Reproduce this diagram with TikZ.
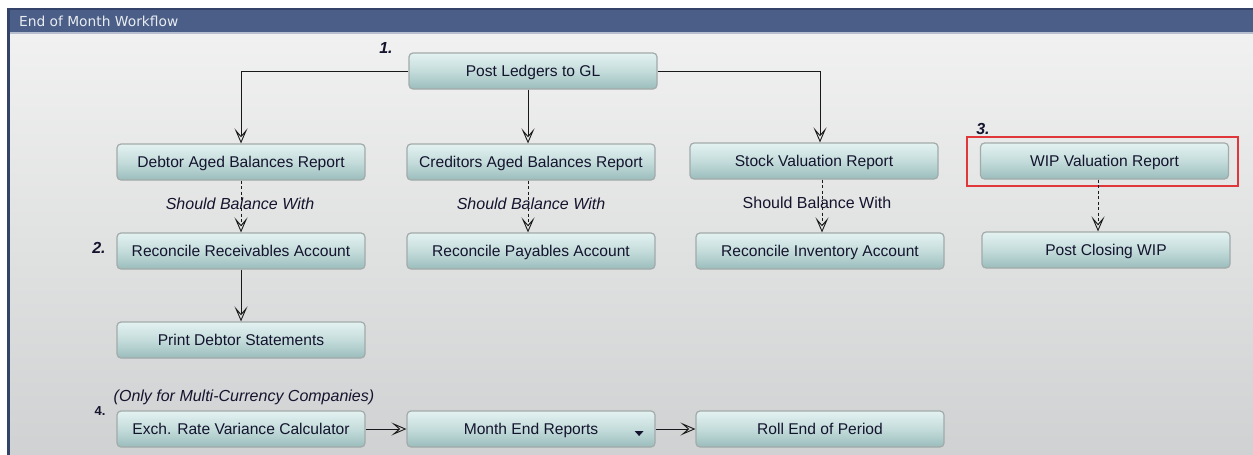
\documentclass[tikz,border=0pt]{standalone}
\usepackage{fontspec}
\setmainfont{Liberation Sans}
\newfontfamily\titlefont{DejaVu Sans}
\usetikzlibrary{arrows.meta}
\definecolor{panelblue}{HTML}{4A5E87}
\definecolor{paneledge}{HTML}{33436A}
\definecolor{boxedge}{HTML}{A2AAAA}
\definecolor{boxtop}{HTML}{E3F2F1}
\definecolor{boxmid}{HTML}{C4DCDB}
\definecolor{boxbot}{HTML}{9BBDBC}
\definecolor{ink}{HTML}{14142E}
\definecolor{bgtop}{HTML}{F0F1F0}
\definecolor{bgbot}{HTML}{D0D1D2}
\definecolor{selred}{HTML}{E0383A}
\tikzset{
  wbox/.style={draw=boxedge, line width=1.2pt, rounded corners=4pt,
    top color=boxtop, bottom color=boxbot, middle color=boxmid,
    minimum width=248pt, minimum height=36pt, inner sep=0pt,
    text height=11.2pt, text depth=0pt,
    text=ink, font=\fontsize{15.6}{18}\selectfont},
  flow/.style={draw=black!90, line width=0.85pt,
    -{Stealth[open, length=15pt, width=13pt, inset=7.5pt, line width=0.9pt]}},
  balance/.style={flow, dashed, dash pattern=on 3pt off 2.5pt},
  note/.style={text=ink, font=\fontsize{16}{19}\selectfont},
  stepnum/.style={text=ink, font=\fontsize{16}{19}\selectfont\bfseries\itshape}
}
\begin{document}
\begin{tikzpicture}[x=1pt, y=-1pt]
  \useasboundingbox (0,0) rectangle (1253,455);
  % window frame
  \fill[white] (0,0) rectangle (1253,455);
  \shade[top color=bgtop, bottom color=bgbot] (9,34) rectangle (1253,455);
  \fill[panelblue] (8,8) rectangle (1253,33);
  \fill[paneledge] (8,8) rectangle (1253,10);
  \fill[white!60!panelblue] (8,32) rectangle (1253,34);
  \fill[paneledge] (7,8) rectangle (9.5,455);
  \node[anchor=west, text=white!88!panelblue, font=\titlefont\fontsize{13.8}{16}\selectfont]
    (title) at (15.5,21) {End of Month Workflow};

  % workflow steps
  \node[wbox] (pl)  at (533,71)    {Post Ledgers to GL};
  \node[wbox] (db)  at (241,162)   {Debtor Aged Balances Report};
  \node[wbox] (cr)  at (531,162)   {Creditors Aged Balances Report};
  \node[wbox] (sv)  at (814,161)   {Stock Valuation Report};
  \node[wbox] (wip) at (1104.5,161){WIP Valuation Report};
  \node[wbox] (rr)  at (241,251)   {Reconcile Receivables Account};
  \node[wbox] (rp)  at (531,251)   {Reconcile Payables Account};
  \node[wbox] (ri)  at (820,251)   {Reconcile Inventory Account};
  \node[wbox] (pc)  at (1106,250)  {Post Closing WIP};
  \node[wbox] (pd)  at (241,340)   {Print Debtor Statements};
  \node[wbox] (ex)  at (241,429)   {Exch. Rate Variance Calculator};
  \node[wbox] (me)  at (531,429)   {Month End Reports};
  \node[wbox] (re)  at (820,429)   {Roll End of Period};

  % dropdown marker
  \fill[ink] ([xshift=-21pt,yshift=-2pt]me.east) -- ++(9,0) -- ++(-4.5,5) -- cycle;

  % selection outline
  \draw[selred, line width=1.3pt] (967,137) rectangle (1238,186);

  % step numbers and notes
  \node[stepnum] (n1) at (386,48)  {1.};
  \node[stepnum] (n2) at (99,248)  {2.};
  \node[stepnum] (n3) at (983,129) {3.};
  \node[text=ink, font=\fontsize{13}{16}\selectfont\bfseries] (n4) at (100,411) {4.};
  \node[note, font=\fontsize{16}{19}\selectfont\itshape] (mc) at (244,397)
    {(Only for Multi-Currency Companies)};

  % connectors
  \draw[flow] (pl.west) -| (db.north);
  \coordinate (crtop) at ([xshift=-3pt]cr.north);
  \draw[flow] (crtop |- pl.south) -- (crtop);
  \coordinate (svtop) at ([xshift=6pt]sv.north);
  \draw[flow] (pl.east) -| (svtop);

  \draw[balance] (db.south) -- (rr.north);
  \node[note, font=\fontsize{16}{19}\selectfont\itshape] (bal1) at (240,204) {Should Balance With};
  \coordinate (crb) at ([xshift=-3pt]cr.south);
  \draw[balance] (crb) -- (crb |- rp.north);
  \node[note, font=\fontsize{16}{19}\selectfont\itshape] (bal2) at (531,204) {Should Balance With};
  \coordinate (rin) at ([xshift=2pt]ri.north);
  \draw[balance] (rin |- sv.south) -- (rin);
  \node[note] (bal3) at (817,203) {Should Balance With};
  \coordinate (pcn) at ([xshift=-8pt]pc.north);
  \draw[balance] (pcn |- wip.south) -- (pcn);

  \draw[flow] (rr.south) -- (pd.north);
  \draw[flow] (ex.east) -- (me.west);
  \draw[flow] (me.east) -- (re.west);
\end{tikzpicture}
\end{document}
